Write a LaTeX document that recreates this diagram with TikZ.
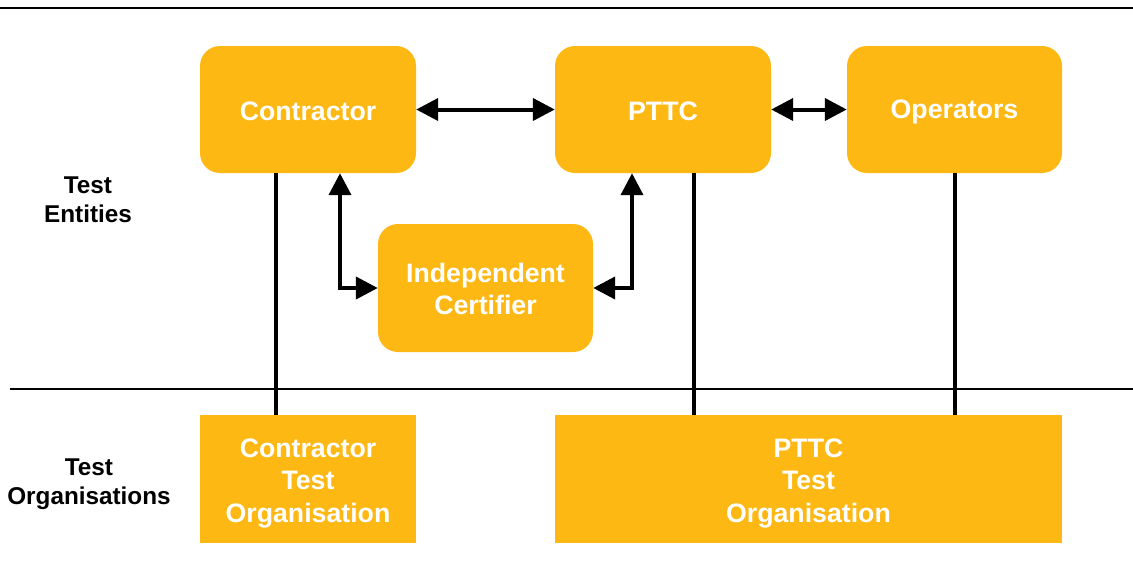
\documentclass[tikz,border=0pt]{standalone}
\usepackage{fontspec}
\setmainfont{Liberation Sans}
\usetikzlibrary{arrows.meta}
\definecolor{boxorange}{RGB}{253,184,19}
\begin{document}
\begin{tikzpicture}[x=1pt,y=-1pt,
  rbox/.style={rectangle,rounded corners=20pt,fill=boxorange,inner sep=0pt,
    minimum width=216pt,minimum height=127pt},
  sbox/.style={rbox,rounded corners=0pt,minimum height=128pt},
  boxtext/.style={text=white,align=center,inner sep=0pt,
    font=\bfseries\fontsize{26.7}{32.5}\selectfont},
  oneline/.style={boxtext,anchor=base,yshift=-2pt},
  multiline/.style={boxtext,yshift=#1},
  sidelabel/.style={align=center,font=\bfseries\fontsize{24.3}{29.5}\selectfont},
  dbl/.style={line width=4pt,{Triangle[length=22pt,width=22pt]}-{Triangle[length=22pt,width=22pt]}},
  link/.style={line width=4pt},
  rule/.style={line width=2pt}]
\useasboundingbox (0,0) rectangle (1133,566);
\coordinate (t1) at (0,8);
\coordinate (t2) at (1133,8);
\coordinate (m1) at (10,389);
\coordinate (m2) at (1133,389);
\draw[rule] (t1) -- (t2);
\draw[rule] (m1) -- (m2);
\node[rbox,label={[oneline]center:Contractor}] (ctr) at (308,109.5) {};
\node[rbox,label={[oneline]center:PTTC}] (pttc) at (663,109.5) {};
\node[rbox,minimum width=215pt,label={[oneline]center:Operators}] (ops) at (954.5,109.5) {};
\node[rbox,minimum width=215pt,minimum height=128pt,
  label={[multiline=-1pt]center:Independent\\Certifier}] (ic) at (485.5,288) {};
\node[sbox,label={[multiline=-4pt]center:Contractor\\Test\\Organisation}] (cto) at (308,479) {};
\node[sbox,minimum width=507pt,label={[multiline=-4pt]center:PTTC\\Test\\Organisation}] (pto) at (808.5,479) {};
\node[sidelabel] (te) at (88,200) {Test\\Entities};
\node[sidelabel] (to) at (89,484) {Test\\Organisations};
\draw[dbl] (ctr.east) -- (pttc.west);
\draw[dbl] (pttc.east) -- (ops.west);
\draw[dbl] ([xshift=32pt]ctr.south) |- (ic.west);
\draw[dbl] ([xshift=-31pt]pttc.south) |- (ic.east);
\draw[link] ([xshift=-32pt]ctr.south) -- ([xshift=-32pt]ctr.south |- cto.north);
\draw[link] ([xshift=31pt]pttc.south) -- ([xshift=31pt]pttc.south |- pto.north);
\draw[link] (ops.south) -- (ops.south |- pto.north);
\end{tikzpicture}
\end{document}
